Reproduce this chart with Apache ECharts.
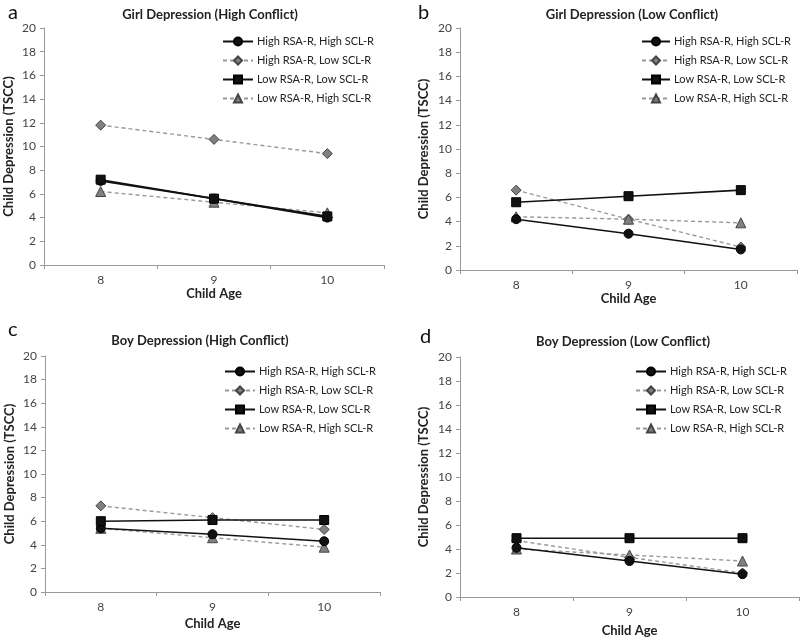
<!DOCTYPE html>
<html>
<head>
<meta charset="utf-8">
<script src="https://cdn.jsdelivr.net/npm/echarts@6/dist/echarts.min.js"></script>
<style>html,body{margin:0;padding:0;background:#fff}#c{width:800px;height:638px}</style>
</head>
<body>
<div id="c"></div>
<script>
// Data
const ages = ['8', '9', '10'];
const seriesNames = ['High RSA-R, High SCL-R', 'High RSA-R, Low SCL-R', 'Low RSA-R, Low SCL-R', 'Low RSA-R, High SCL-R'];
const panelTitles = ['Girl Depression (High Conflict)', 'Girl Depression (Low Conflict)', 'Boy Depression (High Conflict)', 'Boy Depression (Low Conflict)'];
const panelLetters = ['a', 'b', 'c', 'd'];
const yTicks = [0, 2, 4, 6, 8, 10, 12, 14, 16, 18, 20];

// panel a: Girl, High Conflict
const aHighHigh = [7.1, 5.6, 4.0];
const aHighLow  = [11.8, 10.6, 9.4];
const aLowLow   = [7.2, 5.6, 4.1];
const aLowHigh  = [6.2, 5.3, 4.4];
// panel b: Girl, Low Conflict
const bHighHigh = [4.2, 3.0, 1.7];
const bHighLow  = [6.6, 4.2, 1.9];
const bLowLow   = [5.6, 6.1, 6.6];
const bLowHigh  = [4.4, 4.2, 3.9];
// panel c: Boy, High Conflict
const cHighHigh = [5.4, 4.9, 4.3];
const cHighLow  = [7.3, 6.3, 5.3];
const cLowLow   = [6.0, 6.1, 6.1];
const cLowHigh  = [5.4, 4.6, 3.8];
// panel d: Boy, Low Conflict
const dHighHigh = [4.1, 3.0, 1.9];
const dHighLow  = [4.7, 3.3, 2.0];
const dLowLow   = [4.9, 4.9, 4.9];
const dLowHigh  = [4.0, 3.5, 3.0];

const panelData = [
  [aHighHigh, aHighLow, aLowLow, aLowHigh],
  [bHighHigh, bHighLow, bLowLow, bLowHigh],
  [cHighHigh, cHighLow, cLowLow, cLowHigh],
  [dHighHigh, dHighLow, dLowLow, dLowHigh]
];

const FONT = 'Lato, "Open Sans", sans-serif';

const grids = [
  {left: 44, right: 416, top: 28, bottom: 373},
  {left: 460, right: 3, top: 28, bottom: 368},
  {left: 45, right: 420, top: 356, bottom: 46},
  {left: 460, right: 1, top: 357, bottom: 41}
];
const xNameGaps = [20, 19, 25, 27];
const yNameGaps = [29, 30, 29, 30];

const styles = [
  {symbol: 'circle', size: 9, line: {color: '#111', width: 1.6, type: 'solid'}, item: {color: '#111', borderColor: '#000', borderWidth: 1}},
  {symbol: 'diamond', size: 10, line: {color: '#999', width: 1.4, type: [4, 3]}, item: {color: '#808080', borderColor: '#444', borderWidth: 1}},
  {symbol: 'rect', size: 9, line: {color: '#111', width: 1.6, type: 'solid'}, item: {color: '#111', borderColor: '#000', borderWidth: 1}},
  {symbol: 'triangle', size: 10, line: {color: '#999', width: 1.4, type: [4, 3]}, item: {color: '#808080', borderColor: '#444', borderWidth: 1}}
];

const titleCenters = [[205, 3], [627, 3], [195, 329], [618, 330]];
const letterPos = [[3, -2], [413, -2], [3, 315], [415, 322]];
const legendPos = [[217, 31], [636, 31], [219, 361], [630, 361]];
const legendItemW = [30, 28, 30, 30];

const title = [];
panelTitles.forEach((t, i) => {
  title.push({text: t, left: titleCenters[i][0], top: titleCenters[i][1], textAlign: 'center',
    textStyle: {fontFamily: FONT, fontSize: 13, fontWeight: 'bold', color: '#222'}});
  title.push({text: panelLetters[i], left: letterPos[i][0], top: letterPos[i][1],
    textStyle: {fontFamily: FONT, fontSize: 20, fontWeight: 'normal', color: '#111'}});
});

const xAxis = grids.map((g, i) => ({
  type: 'category', gridIndex: i, data: ages, boundaryGap: true,
  name: 'Child Age', nameLocation: 'middle', nameGap: xNameGaps[i],
  nameTextStyle: {fontFamily: FONT, fontSize: 13, fontWeight: 'bold', color: '#222', verticalAlign: 'top'},
  axisLine: {lineStyle: {color: '#999'}},
  axisTick: {show: true, alignWithLabel: false, length: 4, lineStyle: {color: '#999'}},
  axisLabel: {fontFamily: FONT, fontSize: 12, color: '#444', margin: 9},
  splitLine: {show: false}
}));

const yAxis = grids.map((g, i) => ({
  type: 'value', gridIndex: i, min: yTicks[0], max: yTicks[yTicks.length - 1], interval: yTicks[1] - yTicks[0],
  name: 'Child Depression (TSCC)', nameLocation: 'middle', nameGap: yNameGaps[i],
  nameTextStyle: {fontFamily: FONT, fontSize: 13, fontWeight: 'bold', color: '#222'},
  axisLine: {show: true, lineStyle: {color: '#999'}},
  axisTick: {show: true, length: 4, lineStyle: {color: '#999'}},
  axisLabel: {fontFamily: FONT, fontSize: 12, color: '#444', margin: 8},
  splitLine: {show: false}
}));

const series = [];
panelData.forEach((arr, p) => {
  arr.forEach((vals, k) => {
    const s = styles[k];
    series.push({
      name: seriesNames[k], type: 'line', xAxisIndex: p, yAxisIndex: p,
      data: vals, symbol: s.symbol, symbolSize: s.size, showSymbol: true,
      lineStyle: s.line, itemStyle: s.item, z: k === 0 || k === 2 ? 3 : 2,
      animation: false
    });
  });
});

const legend = legendPos.map((pos, i) => ({
  data: seriesNames, orient: 'vertical', left: pos[0], top: pos[1],
  itemWidth: legendItemW[i], itemHeight: 10, itemGap: 8,
  textStyle: {fontFamily: FONT, fontSize: 11, color: '#222', padding: [0, 0, 0, -1]},
  selectedMode: false
}));

const chart = echarts.init(document.getElementById('c'), null, {renderer: 'canvas'});
chart.setOption({
  backgroundColor: '#fff', animation: false,
  title, grid: grids, xAxis, yAxis, series, legend
});
</script>
</body>
</html>
